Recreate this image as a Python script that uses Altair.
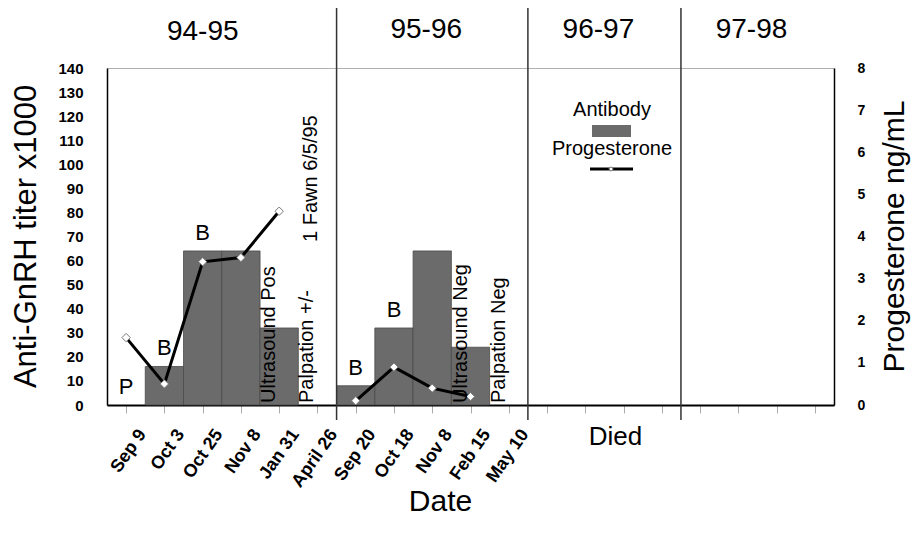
import json
import altair as alt
import pandas as pd

# ---------------- data ----------------
categories = ["Sep 9", "Oct 3", "Oct 25", "Nov 8", "Jan 31", "April 26",
              "Sep 20", "Oct 18", "Nov 8", "Feb 15", "May 10"]
antibody = [0, 16, 64, 64, 32, 0, 8, 32, 64, 24, 0]            # titer x1000
progesterone = [1.6, 0.5, 3.4, 3.5, 4.6, None, 0.1, 0.9, 0.4, 0.2, None]  # ng/mL
bar_letters = ["P", "B", "B", "", "", "", "B", "B", "", "", ""]
notes = ["", "", "", "", "Ultrasound Pos", "Palpation +/-", "", "", "", "Ultrasound Neg", "Palpation Neg"]
fawn_note = "1 Fawn 6/5/95"
seasons = ["94-95", "95-96", "96-97", "97-98"]
season_slots = [6, 5, 4, 4]
died_note = "Died"

# ---------------- tables ----------------
total_slots = sum(season_slots)
season_of = []
for s, n in zip(seasons, season_slots):
    season_of += [s] * n
starts = [sum(season_slots[:i]) for i in range(len(season_slots))]

df = pd.DataFrame({
    "idx": list(range(len(categories))),
    "cat": categories,
    "antibody": antibody,
    "prog": progesterone,
    "letter": bar_letters,
    "note": notes,
    "season": season_of[:len(categories)],
})
df["x0"] = df["idx"]
df["x1"] = df["idx"] + 1
df["xc"] = df["idx"] + 0.5
df["zero"] = 0

sdf = pd.DataFrame({"season": seasons, "start": starts, "n": season_slots})
sdf["center"] = sdf["start"] + sdf["n"] / 2
sdf["end"] = sdf["start"] + sdf["n"]

BAR = "#6b6b6b"
FONT = "Liberation Sans"
label_arr = json.dumps(categories + [""] * (total_slots - len(categories)))

xscale = alt.Scale(domain=[0, total_slots], nice=False, zero=False)
yL = alt.Scale(domain=[0, 140], nice=False)
yR = alt.Scale(domain=[0, 8], nice=False)

base = alt.Chart(df)

x_axis = alt.Axis(
    values=[i + 0.5 for i in range(total_slots)],
    labelExpr=f"{label_arr}[floor(datum.value)]",
    labelAngle=-55, labelAlign="right", labelBaseline="middle",
    labelOffset=16, labelPadding=18, labelFontSize=18, labelFontWeight="bold",
    labelColor="black", tickColor="#aaaaaa", tickSize=8, tickWidth=1,
    domainColor="black", domainWidth=2, grid=False,
    title="Date", titleFontSize=30, titleFontWeight="normal",
    titleX=333, titleY=105, titleBaseline="alphabetic", titleAlign="center",
    titleColor="black", labelFlush=False, labelOverlap=False,
)


def X(field):
    return alt.X(field, scale=xscale, axis=x_axis, title="Date")


bars = base.transform_filter("datum.antibody > 0").mark_rect(
    color=BAR, stroke="#4a4a4a", strokeWidth=0.8
).encode(
    x=X("x0:Q"),
    x2="x1:Q",
    y=alt.Y("antibody:Q", scale=yL, axis=alt.Axis(
        values=list(range(0, 141, 10)), ticks=False, labelPadding=24,
        labelFontSize=15, labelFontWeight="bold", labelColor="black",
        domainColor="black", domainWidth=1.5, grid=False,
        title="Anti-GnRH titer x1000", titleFontSize=31, titleFontWeight="normal",
        titleAngle=270, titleX=-72, titleY=168, titleBaseline="alphabetic",
        titleAlign="center", titleColor="black",
    )),
    y2="zero:Q",
)

bounds = alt.Chart(sdf[sdf["end"] < total_slots]).mark_rule(
    color="#333333", strokeWidth=1.5
).encode(
    x=X("end:Q"),
    y=alt.value(-60), y2=alt.value(352),
)

pdf = base.transform_filter("isValid(datum.prog)")
right_axis = alt.Axis(
    orient="right", values=list(range(0, 9)), ticks=False, labelPadding=23,
    labelFontSize=14, labelFontWeight="bold", labelColor="black",
    domainColor="black", domainWidth=1.5, grid=False,
    title="Progesterone ng/mL", titleFontSize=30, titleFontWeight="normal",
    titleAngle=270, titleX=69, titleY=168, titleBaseline="alphabetic",
    titleAlign="center", titleColor="black",
)
line = pdf.mark_line(color="black", strokeWidth=3).encode(
    x=X("xc:Q"),
    y=alt.Y("prog:Q", scale=yR, axis=right_axis),
    detail="season:N",
)
points = pdf.mark_point(shape="diamond", filled=True, fill="white",
                        stroke="#777777", strokeWidth=1, size=70, opacity=1).encode(
    x=X("xc:Q"),
    y=alt.Y("prog:Q", scale=yR, axis=None),
)

letters = base.transform_filter("datum.letter != ''").mark_text(
    fontSize=22, font=FONT, baseline="middle", align="center", dy=-18, color="black"
).encode(
    x=X("xc:Q"),
    y=alt.Y("antibody:Q", scale=yL, axis=None),
    text="letter:N",
)

note_text = base.transform_filter("datum.note != ''").mark_text(
    fontSize=20, font=FONT, angle=270, align="left", baseline="alphabetic",
    dx=2, dy=-4, color="black"
).encode(
    x=X("xc:Q"),
    y=alt.Y("zero:Q", scale=yL, axis=None),
    text="note:N",
)

fawn = base.transform_filter("datum.note == 'Palpation +/-'").transform_calculate(
    fawn=f"'{fawn_note}'"
).mark_text(
    fontSize=20, font=FONT, angle=270, align="left", baseline="alphabetic",
    dx=163, dy=0, color="black"
).encode(
    x=X("xc:Q"),
    y=alt.Y("zero:Q", scale=yL, axis=None),
    text="fawn:N",
)

season_first = alt.Chart(sdf[sdf["season"] == seasons[0]]).mark_text(
    fontSize=28, font=FONT, align="center", baseline="middle", dx=-19, color="black"
).encode(x=X("center:Q"), y=alt.value(-36), text="season:N")
season_rest = alt.Chart(sdf[sdf["season"] != seasons[0]]).mark_text(
    fontSize=28, font=FONT, align="center", baseline="middle", dx=-6, color="black"
).encode(x=X("center:Q"), y=alt.value(-38), text="season:N")

died = alt.Chart(sdf[sdf["season"] == "96-97"]).transform_calculate(
    died=f"'{died_note}'"
).mark_text(
    fontSize=26, font=FONT, align="center", baseline="middle", dx=11, color="black"
).encode(x=X("center:Q"), y=alt.value(369), text="died:N")

one = alt.Chart(pd.DataFrame({"k": [0]}))
leg1 = one.mark_text(fontSize=20, font=FONT, align="center", baseline="middle", color="black").encode(
    x=alt.value(505), y=alt.value(42), text=alt.value("Antibody"))
leg2 = one.mark_rect(color=BAR).encode(
    x=alt.value(485), x2=alt.value(524), y=alt.value(57), y2=alt.value(69))
leg3 = one.mark_text(fontSize=20, font=FONT, align="center", baseline="middle", color="black").encode(
    x=alt.value(505), y=alt.value(81), text=alt.value("Progesterone"))
leg4 = one.mark_rule(color="black", strokeWidth=3).encode(
    x=alt.value(483), x2=alt.value(526), y=alt.value(101))
leg5 = one.mark_point(shape="diamond", filled=True, fill="white", stroke="#777777",
                      strokeWidth=1, size=20, opacity=1).encode(
    x=alt.value(504), y=alt.value(101))

chart = alt.layer(
    bars, bounds, line, points, letters, note_text, fawn,
    season_first, season_rest, died, leg1, leg2, leg3, leg4, leg5,
).resolve_scale(y="independent").properties(
    width=727, height=337,
    autosize=alt.AutoSizeParams(type="none"),
    padding={"left": 107, "top": 68, "right": 78, "bottom": 134},
    background="white",
).configure(font=FONT).configure_view(stroke="#b0b0b0", strokeWidth=1)

chart.save("out.html", embed_options={"renderer": "svg", "actions": False})
